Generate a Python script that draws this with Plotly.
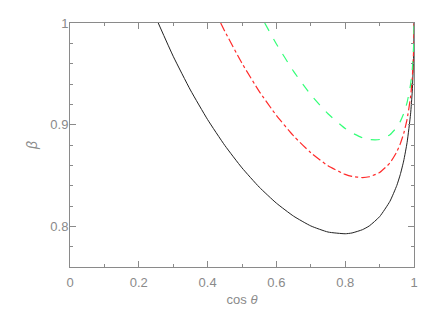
import plotly.graph_objects as go

cos_black = [0.2565, 0.3, 0.35, 0.4, 0.45, 0.5, 0.55, 0.6, 0.65, 0.7, 0.75, 0.8, 0.82, 0.85, 0.87, 0.9, 0.93, 0.95, 0.96, 0.97, 0.98, 0.99, 0.995, 0.999, 0.9999, 1.0]
beta_black = [1.0, 0.9673, 0.9341, 0.9050, 0.8796, 0.8575, 0.8386, 0.8228, 0.8100, 0.8004, 0.7944, 0.7927, 0.7935, 0.7967, 0.8004, 0.8095, 0.8246, 0.8402, 0.8508, 0.8643, 0.8826, 0.9103, 0.9330, 0.9677, 0.9893, 1.0]

cos_red = [0.438, 0.45, 0.5, 0.55, 0.6, 0.65, 0.7, 0.75, 0.8, 0.82, 0.85, 0.87, 0.9, 0.93, 0.95, 0.96, 0.97, 0.98, 0.99, 0.995, 0.999, 0.9999, 1.0]
beta_red = [1.0, 0.9919, 0.9604, 0.9328, 0.9091, 0.8889, 0.8724, 0.8596, 0.8511, 0.8491, 0.8480, 0.8488, 0.8529, 0.8623, 0.8733, 0.8811, 0.8913, 0.9055, 0.9275, 0.9457, 0.9738, 0.9913, 1.0]

cos_green = [0.566, 0.6, 0.65, 0.7, 0.75, 0.8, 0.82, 0.85, 0.87, 0.9, 0.93, 0.95, 0.96, 0.97, 0.98, 0.99, 0.995, 0.999, 0.9999, 1.0]
beta_green = [1.0, 0.9794, 0.9524, 0.9295, 0.9107, 0.8962, 0.8919, 0.8871, 0.8853, 0.8854, 0.8901, 0.8974, 0.9030, 0.9108, 0.9219, 0.9396, 0.9546, 0.9780, 0.9927, 1.0]

x_ticks = [0, 0.2, 0.4, 0.6, 0.8, 1.0]
x_labels = ["0", "0.2", "0.4", "0.6", "0.8", "1"]
y_ticks = [0.8, 0.9, 1.0]
y_labels = ["0.8", "0.9", "1"]

GRAY = "#8a8a8a"
FONT = "Liberation Sans"

fig = go.Figure()
fig.add_trace(go.Scatter(x=cos_black, y=beta_black, mode="lines",
                         line=dict(color="#222222", width=1, shape="spline", smoothing=0.5)))
fig.add_trace(go.Scatter(x=cos_red, y=beta_red, mode="lines",
                         line=dict(color="#ff2a2a", width=1.2, dash="dashdot", shape="spline", smoothing=0.5)))
fig.add_trace(go.Scatter(x=cos_green, y=beta_green, mode="lines",
                         line=dict(color="#33ff77", width=1.2, dash="dash", shape="spline", smoothing=0.5)))

axis_common = dict(showgrid=False, zeroline=False, showline=True, linecolor=GRAY, linewidth=1,
                   ticks="inside", ticklen=6, tickcolor=GRAY, mirror="ticks",
                   tickfont=dict(family=FONT, size=13, color=GRAY))

fig.update_xaxes(range=[0, 1], tickvals=x_ticks, ticktext=x_labels, ticklabelstandoff=3,
                 minor=dict(dtick=0.1, ticks="inside", ticklen=3, tickcolor=GRAY, showgrid=False),
                 title=dict(text="cos <i>θ</i>", font=dict(family=FONT, size=13, color=GRAY), standoff=6),
                 **axis_common)
fig.update_yaxes(range=[0.76, 1.0], tickvals=y_ticks, ticktext=y_labels, ticklabelstandoff=-2,
                 minor=dict(dtick=0.02, ticks="inside", ticklen=3, tickcolor=GRAY, showgrid=False),
                 title=dict(text="<i>β</i>", font=dict(family=FONT, size=14, color=GRAY), standoff=9),
                 **axis_common)

fig.update_layout(width=436, height=312, margin=dict(l=62, r=30, t=15, b=53, autoexpand=False),
                  plot_bgcolor="white", paper_bgcolor="white", showlegend=False)

fig.write_html("out.html")
